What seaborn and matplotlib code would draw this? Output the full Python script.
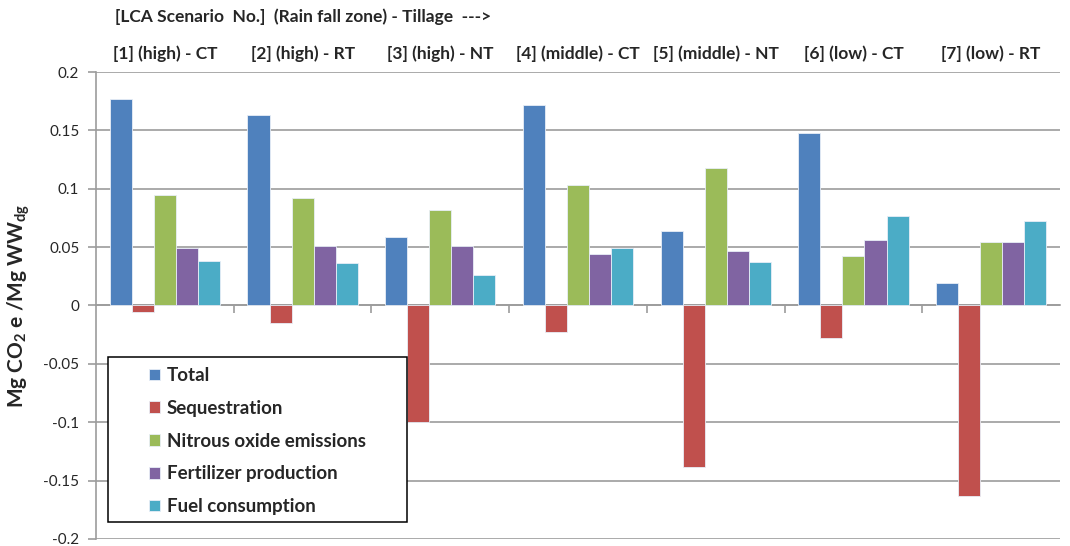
import matplotlib
matplotlib.use("Agg")
import matplotlib.pyplot as plt
from matplotlib.patches import Rectangle
from matplotlib.ticker import FixedLocator
import seaborn as sns
import pandas as pd

# Scenario labels (rain fall zone and tillage)
scenarios = ["[1] (high) - CT", "[2] (high) - RT", "[3] (high) - NT",
             "[4] (middle) - CT", "[5] (middle) - NT", "[6] (low) - CT",
             "[7] (low) - RT"]

components = ["Total", "Sequestration", "Nitrous oxide emissions",
              "Fertilizer production", "Fuel consumption"]

# Mg CO2 e / Mg WW_dg per scenario
total = [0.177, 0.163, 0.059, 0.172, 0.064, 0.148, 0.019]
sequestration = [-0.006, -0.015, -0.100, -0.023, -0.138, -0.028, -0.163]
nitrous_oxide = [0.095, 0.092, 0.082, 0.103, 0.118, 0.042, 0.054]
fertilizer = [0.049, 0.051, 0.051, 0.044, 0.047, 0.056, 0.054]
fuel = [0.038, 0.036, 0.026, 0.049, 0.037, 0.077, 0.072]

palette = ["#4F81BD", "#C0504D", "#9BBB59", "#8064A2", "#4BACC6"]

series = [total, sequestration, nitrous_oxide, fertilizer, fuel]
df = pd.DataFrame({
    "scenario": [s for _ in components for s in scenarios],
    "component": [c for c in components for _ in scenarios],
    "value": [v for vals in series for v in vals],
})

sns.set_theme(style="white")
plt.rcParams["font.family"] = ["Lato", "DejaVu Sans"]
plt.rcParams["mathtext.fontset"] = "custom"
plt.rcParams["mathtext.rm"] = "Lato:bold"
plt.rcParams["mathtext.it"] = "Lato:bold"
plt.rcParams["mathtext.bf"] = "Lato:bold"

fig = plt.figure(figsize=(10.7, 5.46), dpi=100)
ax = fig.add_axes([0.0897, 0.013, 0.9010, 0.855])

grid_color = "#9c9c9c"

sns.barplot(data=df, x="scenario", y="value", hue="component",
            order=scenarios, hue_order=components, palette=palette,
            width=0.8, errorbar=None, ax=ax, zorder=3,
            edgecolor="#e8eef7", linewidth=0.6, saturation=1)

ax.set_xlim(-0.5, len(scenarios) - 0.5)
ax.set_ylim(-0.2, 0.2)
ax.set_yticks([-0.2, -0.15, -0.1, -0.05, 0, 0.05, 0.1, 0.15, 0.2])
ax.set_yticklabels(["-0.2", "-0.15", "-0.1", "-0.05", "0", "0.05", "0.1",
                    "0.15", "0.2"], fontsize=11)
ax.grid(axis="y", color=grid_color, linewidth=1.2, zorder=0)
ax.set_axisbelow(True)

# Category axis crosses at zero; scenario names shown above the plot
for side in ["top", "right"]:
    ax.spines[side].set_visible(False)
ax.spines["bottom"].set_position(("data", 0))
ax.spines["bottom"].set_color(grid_color)
ax.spines["bottom"].set_linewidth(1.2)
ax.spines["left"].set_color(grid_color)
ax.spines["left"].set_linewidth(1.2)

ax.set_xticks(range(len(scenarios)))
ax.set_xticklabels(scenarios, fontsize=12.5, fontweight="bold")
ax.xaxis.set_minor_locator(FixedLocator([i + 0.5 for i in range(len(scenarios) - 1)]))
ax.tick_params(axis="x", which="major", bottom=False, top=False,
               labelbottom=False, labeltop=True, pad=1)
ax.tick_params(axis="x", which="minor", bottom=True, top=False,
               length=6, width=1.2, color=grid_color, direction="out")
ax.tick_params(axis="y", which="major", left=True, length=6, width=1.2,
               color=grid_color, direction="out", pad=6)
ax.set_xlabel("")
ax.set_ylabel(r"Mg CO$_\mathrm{2}$ e /Mg WW$_\mathrm{dg}$", fontsize=15,
              fontweight="bold", labelpad=8)

fig.text(115 / 1070, 1 - 17 / 546,
         "[LCA Scenario  No.]  (Rain fall zone) - Tillage  --->",
         fontsize=12.5, fontweight="bold", ha="left", va="center")

# Legend box with inner padding on the left
handles, labels = ax.get_legend_handles_labels()
ax.get_legend().remove()
ax.add_patch(Rectangle((0.0124, 0.036), 0.3106, 0.353, transform=ax.transAxes,
                       facecolor="white", edgecolor="black", linewidth=1.1,
                       zorder=4))
leg = ax.legend(handles, labels, loc="upper left",
                bbox_to_anchor=(0.055, 0.368), frameon=False,
                prop={"weight": "bold", "size": 13.5},
                handlelength=0.6, handleheight=0.6, handletextpad=0.35,
                labelspacing=0.84, borderpad=0, borderaxespad=0)
leg.set_zorder(5)

fig.savefig("out.png", dpi=100)
